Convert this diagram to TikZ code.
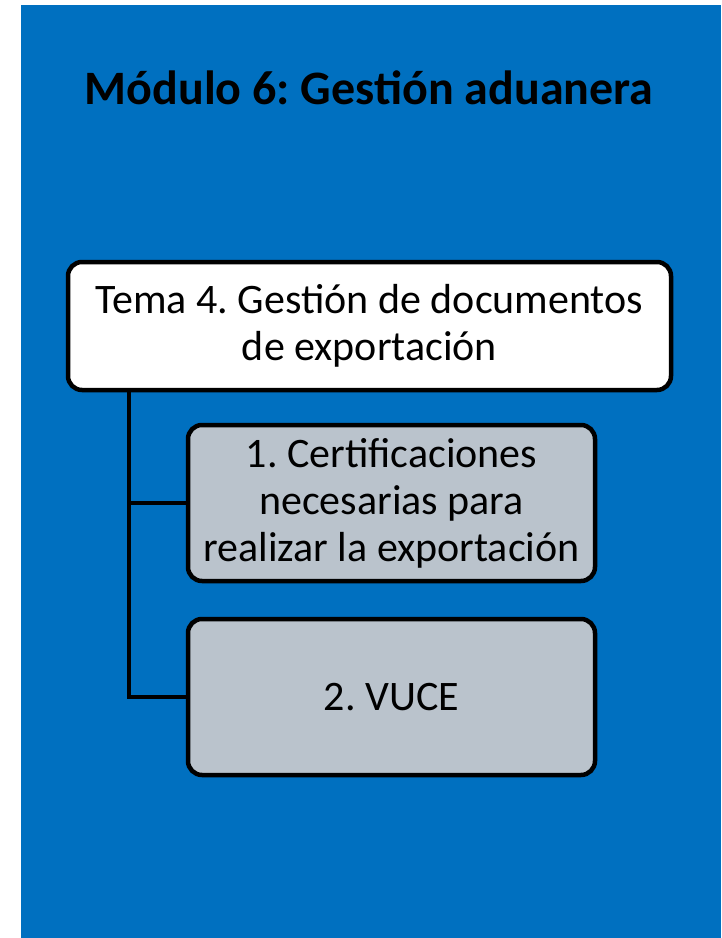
\documentclass[tikz,border=0pt]{standalone}
\usepackage{fontspec}
\setmainfont{Carlito}
\frenchspacing
\definecolor{fondo}{HTML}{0070C0}
\definecolor{gris}{HTML}{BAC3CC}
\tikzstyle{tema}=[draw,rounded corners=14pt,line width=4.5pt,fill=white,align=center,font=\fontsize{42}{47}\selectfont,inner sep=0pt]
\tikzstyle{sub}=[tema,fill=gris,minimum width=407pt,minimum height=156pt]

\begin{document}
\begin{tikzpicture}[x=1pt,y=-1pt,line width=4.5pt]
  \useasboundingbox (0,0) rectangle (721,938);
  \fill[fondo] (21,5) rectangle (721,938);
  \node[font=\fontsize{48}{52}\selectfont\bfseries] (titulo) at (369,88) {Módulo 6: Gestión aduanera};
  \node[tema,minimum width=603pt,minimum height=128pt] (tema) at (369.5,326) {Tema 4. Gestión de documentos\\de exportación};
  \foreach \place/\name/\texto in {{(391.5,503)/cert/1. Certificaciones\\necesarias para\\realizar la exportación},
                                   {(391.5,697)/vuce/2. VUCE}}
    \node[sub] (\name) at \place {\texto};
  \coordinate (raiz) at (129,392);
  \draw (raiz) |- (cert.west);
  \draw (raiz) |- (vuce.west);
\end{tikzpicture}
\end{document}
